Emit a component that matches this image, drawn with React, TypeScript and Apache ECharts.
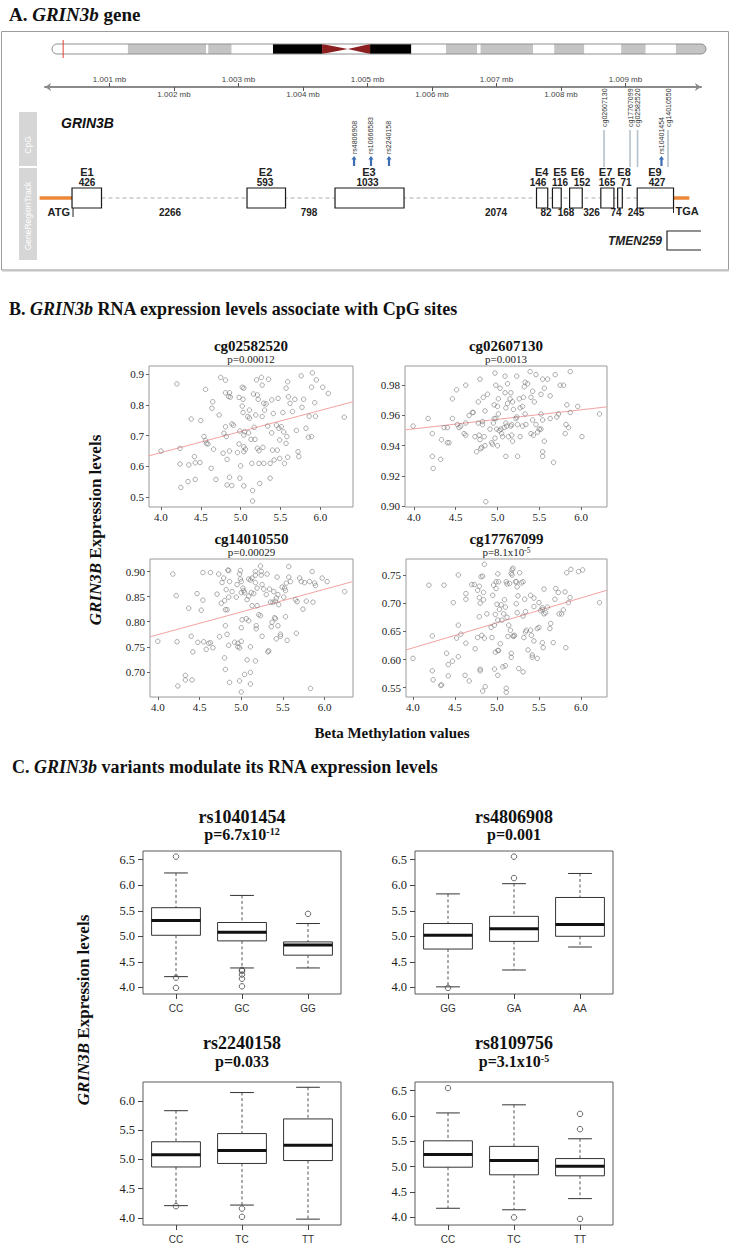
import React, { useEffect, useRef } from "react";
import * as echarts from "echarts";

const SERIF = "'Liberation Serif','Times New Roman',serif";
const SANS = "'Liberation Sans',Arial,sans-serif";

type Pt = [number, number];

// ================= Panel A data =================
// chromosome 19 ideogram (Mb)
const chrBandStart = [0, 6.8, 13.8, 14.0, 16.1, 19.8, 28.5, 32.2, 35.3, 38.1, 38.4, 43.1, 45.0, 47.7, 51.0, 53.2, 55.9];
const chrBandEnd = [6.8, 13.8, 14.0, 16.1, 19.8, 24.2, 32.2, 35.3, 38.1, 38.4, 43.1, 45.0, 47.7, 51.0, 53.2, 55.9, 58.6];
const chrBandStain = ["gneg", "gpos", "gneg", "gpos", "gneg", "gpos100", "gpos100", "gneg", "gpos", "gneg", "gpos", "gneg", "gpos", "gneg", "gpos", "gneg", "gpos"];
const chrCentromere = [24.2, 26.5, 28.5];
const chrLength = 58.6;
const geneLocusMb = [1.0];

// genome ruler (mb)
const rulerMinMb = 1.0;
const rulerMaxMb = 1.01017;
const rulerUpperTicks = [1.001, 1.003, 1.005, 1.007, 1.009];
const rulerLowerTicks = [1.002, 1.004, 1.006, 1.008];

// gene model (mb)
const exonNames = ["E1", "E2", "E3", "E4", "E5", "E6", "E7", "E8", "E9"];
const exonSizes = [426, 593, 1033, 146, 116, 152, 165, 71, 427];
const exonStartMb = [1.000419, 1.003132, 1.004496, 1.00762, 1.007867, 1.008133, 1.008617, 1.008878, 1.009181];
const exonEndMb = [1.000876, 1.003729, 1.005566, 1.007794, 1.008003, 1.008329, 1.00882, 1.00895, 1.009744];
const exonLabelMb = [1.000651, 1.003419, 1.005023, 1.007701, 1.007984, 1.008256, 1.00869, 1.008977, 1.009457];
const exonSizeLabelMb = [1.000651, 1.003411, 1.005, 1.007643, 1.007984, 1.008326, 1.008713, 1.009008, 1.009488];
const intronSizes = [2266, 798, 2074, 82, 168, 326, 74, 245];
const intronLabelMb = [1.001938, 1.004093, 1.006992, 1.007767, 1.008078, 1.008473, 1.008853, 1.009163];
const utr5StartMb = 0.999916;
const utr3EndMb = 1.009989;
const cpgNames = ["cg02607130", "cg17767099", "cg02582520", "cg14010550"];
const cpgMb = [1.008667, 1.00907, 1.009186, 1.009659];
const snpNames = ["rs4806908", "rs10666583", "rs2240158", "rs10401454"];
const snpMb = [1.004791, 1.005054, 1.005333, 1.009557];
const tmemStartMb = 1.009643;
const geneAxisMinMb = 0.999845;

// ================= Panel B data =================
const scatterXTicks = [4.0, 4.5, 5.0, 5.5, 6.0];
const cg02582520YTicks = [0.5, 0.6, 0.7, 0.8, 0.9];
const cg02607130YTicks = [0.9, 0.92, 0.94, 0.96, 0.98];
const cg14010550YTicks = [0.7, 0.75, 0.8, 0.85, 0.9];
const cg17767099YTicks = [0.55, 0.6, 0.65, 0.7, 0.75];

const cg02582520Fit: Pt[] = [[3.84, 0.634], [6.41, 0.81]];
const cg02607130Fit: Pt[] = [[3.897, 0.9505], [6.31, 0.9657]];
const cg14010550Fit: Pt[] = [[3.907, 0.77], [6.337, 0.88]];
const cg17767099Fit: Pt[] = [[3.917, 0.617], [6.31, 0.723]];

const cg02582520Points: Pt[] = [
  [4.2, 0.868], [4.0, 0.65], [4.24, 0.659], [4.24, 0.608], [4.25, 0.532], [4.35, 0.605], [4.34, 0.551], [4.38, 0.754], [4.43, 0.558], [4.42, 0.632],
  [4.43, 0.612], [4.49, 0.613], [4.5, 0.749], [4.54, 0.697], [4.56, 0.85], [4.56, 0.684], [4.57, 0.675], [4.59, 0.673], [4.65, 0.81], [4.64, 0.789],
  [4.66, 0.656], [4.63, 0.594], [4.69, 0.558], [4.73, 0.767], [4.75, 0.889], [4.78, 0.643], [4.79, 0.708], [4.81, 0.88], [4.81, 0.839], [4.81, 0.729],
  [4.82, 0.697], [4.83, 0.54], [4.83, 0.623], [4.85, 0.827], [4.86, 0.839], [4.87, 0.825], [4.89, 0.738], [4.86, 0.65], [4.86, 0.565], [4.89, 0.538],
  [4.91, 0.734], [4.96, 0.645], [4.98, 0.824], [4.98, 0.673], [4.99, 0.715], [5.0, 0.602], [4.99, 0.562], [5.02, 0.857], [5.03, 0.818], [5.02, 0.796],
  [5.03, 0.775], [5.04, 0.854], [5.04, 0.702], [5.05, 0.713], [5.04, 0.664], [5.04, 0.648], [5.04, 0.537], [5.06, 0.656], [5.09, 0.762], [5.1, 0.709],
  [5.11, 0.783], [5.11, 0.757], [5.13, 0.688], [5.14, 0.61], [5.15, 0.522], [5.15, 0.488], [5.16, 0.835], [5.17, 0.727], [5.18, 0.688], [5.19, 0.767],
  [5.2, 0.881], [5.21, 0.832], [5.22, 0.818], [5.21, 0.659], [5.23, 0.651], [5.23, 0.61], [5.24, 0.545], [5.26, 0.889], [5.27, 0.864], [5.27, 0.762],
  [5.28, 0.662], [5.29, 0.805], [5.29, 0.61], [5.3, 0.783], [5.32, 0.803], [5.34, 0.731], [5.35, 0.883], [5.37, 0.562], [5.37, 0.61], [5.39, 0.816],
  [5.39, 0.709], [5.4, 0.653], [5.41, 0.772], [5.42, 0.621], [5.45, 0.734], [5.46, 0.653], [5.47, 0.821], [5.48, 0.724], [5.49, 0.686], [5.49, 0.626],
  [5.51, 0.729], [5.53, 0.775], [5.54, 0.712], [5.55, 0.61], [5.57, 0.854], [5.57, 0.675], [5.58, 0.697], [5.59, 0.875], [5.6, 0.826], [5.62, 0.805],
  [5.59, 0.63], [5.65, 0.778], [5.68, 0.818], [5.7, 0.717], [5.72, 0.648], [5.73, 0.632], [5.76, 0.894], [5.77, 0.792], [5.79, 0.818], [5.82, 0.724],
  [5.85, 0.695], [5.86, 0.763], [5.89, 0.697], [5.89, 0.857], [5.9, 0.904], [5.93, 0.807], [5.94, 0.763], [5.95, 0.881], [6.03, 0.857], [6.1, 0.837],
  [6.3, 0.76],
];

const cg02607130Points: Pt[] = [
  [3.99, 0.953], [4.17, 0.958], [4.22, 0.948], [4.22, 0.933], [4.23, 0.925], [4.32, 0.931], [4.33, 0.944], [4.36, 0.952], [4.4, 0.952], [4.4, 0.942],
  [4.42, 0.942], [4.46, 0.958], [4.46, 0.971], [4.51, 0.977], [4.52, 0.954], [4.54, 0.952], [4.56, 0.953], [4.6, 0.948], [4.62, 0.947], [4.62, 0.98],
  [4.62, 0.955], [4.66, 0.96], [4.7, 0.962], [4.71, 0.962], [4.73, 0.946], [4.75, 0.936], [4.77, 0.969], [4.77, 0.955], [4.78, 0.947], [4.79, 0.984],
  [4.79, 0.944], [4.8, 0.938], [4.81, 0.939], [4.82, 0.954], [4.82, 0.956], [4.83, 0.972], [4.84, 0.946], [4.85, 0.963], [4.85, 0.94], [4.86, 0.903],
  [4.88, 0.974], [4.91, 0.951], [4.93, 0.942], [4.94, 0.941], [4.95, 0.955], [4.96, 0.967], [4.96, 0.958], [4.97, 0.988], [4.97, 0.945], [4.98, 0.98],
  [4.98, 0.958], [4.99, 0.951], [5.0, 0.94], [5.0, 0.966], [5.01, 0.971], [5.01, 0.961], [5.02, 0.95], [5.03, 0.978], [5.04, 0.951], [5.05, 0.948],
  [5.06, 0.946], [5.08, 0.952], [5.09, 0.975], [5.09, 0.986], [5.1, 0.965], [5.1, 0.955], [5.1, 0.933], [5.11, 0.953], [5.12, 0.981], [5.12, 0.968],
  [5.13, 0.946], [5.15, 0.971], [5.16, 0.975], [5.16, 0.953], [5.17, 0.947], [5.17, 0.954], [5.18, 0.969], [5.18, 0.943], [5.19, 0.964], [5.22, 0.958],
  [5.23, 0.959], [5.23, 0.986], [5.24, 0.933], [5.24, 0.954], [5.26, 0.971], [5.27, 0.965], [5.27, 0.946], [5.3, 0.966], [5.3, 0.953], [5.31, 0.972],
  [5.32, 0.979], [5.33, 0.961], [5.33, 0.982], [5.34, 0.954], [5.36, 0.981], [5.39, 0.989], [5.4, 0.972], [5.4, 0.948], [5.42, 0.976], [5.42, 0.957],
  [5.43, 0.947], [5.44, 0.969], [5.46, 0.954], [5.46, 0.987], [5.48, 0.949], [5.5, 0.951], [5.52, 0.961], [5.52, 0.951], [5.52, 0.974], [5.54, 0.957],
  [5.54, 0.984], [5.54, 0.936], [5.54, 0.933], [5.56, 0.943], [5.56, 0.978], [5.6, 0.984], [5.63, 0.973], [5.63, 0.958], [5.67, 0.929], [5.69, 0.987],
  [5.71, 0.959], [5.73, 0.961], [5.75, 0.98], [5.79, 0.98], [5.81, 0.948], [5.82, 0.954], [5.83, 0.967], [5.85, 0.952], [5.87, 0.989], [5.87, 0.962],
  [5.96, 0.966], [6.01, 0.946], [6.22, 0.961],
];

const cg14010550Points: Pt[] = [
  [4.0, 0.761], [4.18, 0.895], [4.22, 0.852], [4.23, 0.76], [4.24, 0.672], [4.33, 0.693], [4.33, 0.684], [4.37, 0.827], [4.41, 0.684], [4.4, 0.771],
  [4.42, 0.74], [4.47, 0.856], [4.48, 0.759], [4.52, 0.823], [4.54, 0.898], [4.54, 0.843], [4.55, 0.76], [4.58, 0.745], [4.61, 0.757], [4.63, 0.898],
  [4.63, 0.758], [4.66, 0.748], [4.71, 0.855], [4.73, 0.895], [4.74, 0.77], [4.76, 0.837], [4.77, 0.878], [4.79, 0.887], [4.8, 0.842], [4.81, 0.824],
  [4.81, 0.792], [4.8, 0.728], [4.81, 0.705], [4.82, 0.864], [4.83, 0.824], [4.83, 0.775], [4.84, 0.903], [4.85, 0.849], [4.85, 0.902], [4.86, 0.88],
  [4.85, 0.753], [4.86, 0.679], [4.89, 0.86], [4.92, 0.759], [4.94, 0.849], [4.95, 0.874], [4.96, 0.757], [4.96, 0.75], [4.98, 0.748], [4.98, 0.895],
  [4.99, 0.902], [4.99, 0.885], [5.0, 0.88], [5.0, 0.858], [4.98, 0.682], [5.0, 0.788], [5.0, 0.761], [5.0, 0.66], [5.01, 0.804], [5.02, 0.867],
  [5.03, 0.862], [5.04, 0.695], [5.04, 0.858], [5.06, 0.806], [5.07, 0.844], [5.07, 0.724], [5.09, 0.802], [5.09, 0.851], [5.09, 0.885], [5.11, 0.883],
  [5.11, 0.75], [5.11, 0.699], [5.11, 0.676], [5.12, 0.858], [5.13, 0.887], [5.13, 0.832], [5.15, 0.856], [5.17, 0.9], [5.17, 0.893], [5.17, 0.878],
  [5.17, 0.722], [5.18, 0.792], [5.18, 0.786], [5.19, 0.867], [5.19, 0.832], [5.21, 0.814], [5.23, 0.911], [5.23, 0.812], [5.24, 0.9], [5.24, 0.893],
  [5.25, 0.874], [5.25, 0.771], [5.27, 0.865], [5.3, 0.854], [5.31, 0.895], [5.32, 0.74], [5.33, 0.742], [5.34, 0.865], [5.35, 0.839], [5.36, 0.79],
  [5.37, 0.799], [5.38, 0.839], [5.39, 0.86], [5.4, 0.808], [5.41, 0.841], [5.41, 0.806], [5.42, 0.847], [5.42, 0.766], [5.43, 0.889], [5.44, 0.854],
  [5.44, 0.792], [5.45, 0.834], [5.47, 0.775], [5.47, 0.771], [5.49, 0.869], [5.51, 0.849], [5.52, 0.867], [5.53, 0.81], [5.53, 0.862], [5.54, 0.877],
  [5.55, 0.763], [5.57, 0.91], [5.57, 0.889], [5.59, 0.88], [5.65, 0.844], [5.66, 0.777], [5.67, 0.84], [5.7, 0.887], [5.72, 0.88], [5.74, 0.825],
  [5.76, 0.878], [5.78, 0.841], [5.82, 0.88], [5.83, 0.667], [5.85, 0.9], [5.86, 0.839], [5.88, 0.877], [5.89, 0.872], [5.97, 0.887], [6.03, 0.88],
  [6.24, 0.86],
];

const cg17767099Points: Pt[] = [
  [4.0, 0.602], [4.19, 0.732], [4.23, 0.642], [4.23, 0.58], [4.24, 0.564], [4.33, 0.554], [4.34, 0.555], [4.37, 0.732], [4.4, 0.611], [4.42, 0.571],
  [4.42, 0.591], [4.47, 0.597], [4.48, 0.701], [4.54, 0.75], [4.54, 0.661], [4.54, 0.605], [4.52, 0.638], [4.57, 0.645], [4.62, 0.572], [4.63, 0.717],
  [4.63, 0.707], [4.63, 0.629], [4.67, 0.562], [4.7, 0.733], [4.73, 0.733], [4.74, 0.619], [4.77, 0.639], [4.77, 0.723], [4.79, 0.73], [4.79, 0.71],
  [4.79, 0.676], [4.8, 0.583], [4.8, 0.58], [4.8, 0.7], [4.81, 0.747], [4.82, 0.643], [4.83, 0.748], [4.83, 0.544], [4.84, 0.719], [4.84, 0.706],
  [4.85, 0.638], [4.85, 0.769], [4.86, 0.552], [4.88, 0.681], [4.93, 0.657], [4.94, 0.639], [4.95, 0.714], [4.96, 0.732], [4.97, 0.661], [4.97, 0.583],
  [4.98, 0.68], [4.98, 0.613], [4.99, 0.738], [4.99, 0.726], [5.0, 0.698], [5.01, 0.67], [5.01, 0.572], [5.01, 0.752], [5.01, 0.616], [5.02, 0.738],
  [5.02, 0.616], [5.03, 0.689], [5.04, 0.628], [5.05, 0.697], [5.06, 0.67], [5.07, 0.587], [5.08, 0.681], [5.09, 0.706], [5.1, 0.693], [5.1, 0.589],
  [5.11, 0.549], [5.11, 0.542], [5.11, 0.738], [5.12, 0.734], [5.12, 0.675], [5.13, 0.641], [5.14, 0.661], [5.15, 0.735], [5.16, 0.652], [5.17, 0.753],
  [5.17, 0.604], [5.17, 0.611], [5.18, 0.759], [5.18, 0.75], [5.19, 0.642], [5.19, 0.762], [5.2, 0.641], [5.21, 0.643], [5.22, 0.738], [5.23, 0.738],
  [5.23, 0.699], [5.24, 0.729], [5.24, 0.683], [5.25, 0.713], [5.26, 0.584], [5.27, 0.754], [5.29, 0.736], [5.31, 0.677], [5.31, 0.738], [5.31, 0.578],
  [5.32, 0.639], [5.33, 0.707], [5.34, 0.649], [5.34, 0.685], [5.35, 0.652], [5.37, 0.617], [5.4, 0.714], [5.4, 0.652], [5.41, 0.643], [5.42, 0.604],
  [5.42, 0.608], [5.44, 0.709], [5.44, 0.694], [5.44, 0.633], [5.48, 0.655], [5.48, 0.602], [5.5, 0.701], [5.5, 0.657], [5.52, 0.687], [5.54, 0.689],
  [5.54, 0.63], [5.54, 0.692], [5.55, 0.621], [5.56, 0.681], [5.56, 0.725], [5.58, 0.683], [5.6, 0.693], [5.63, 0.655], [5.64, 0.664], [5.67, 0.63],
  [5.69, 0.707], [5.7, 0.726], [5.73, 0.719], [5.74, 0.681], [5.77, 0.681], [5.79, 0.688], [5.81, 0.72], [5.82, 0.621], [5.83, 0.754], [5.85, 0.701],
  [5.87, 0.71], [5.88, 0.76], [5.97, 0.756], [6.02, 0.759], [6.22, 0.701],
];

// ================= Panel C data =================
const rs10401454Genotypes = ["CC", "GC", "GG"];
const rs10401454Stats = [[4.21, 5.02, 5.31, 5.56, 6.24], [4.38, 4.91, 5.08, 5.27, 5.8], [4.38, 4.63, 4.83, 4.89, 5.25]];
const rs10401454Outliers: Pt[] = [[0, 6.56], [0, 4.19], [0, 3.99], [1, 4.34], [1, 4.32], [1, 4.25], [1, 4.17], [1, 4.02], [2, 5.44]];

const rs4806908Genotypes = ["GG", "GA", "AA"];
const rs4806908Stats = [[4.01, 4.75, 5.02, 5.25, 5.83], [4.34, 4.9, 5.15, 5.39, 6.03], [4.79, 5.0, 5.23, 5.76, 6.23]];
const rs4806908Outliers: Pt[] = [[0, 3.99], [1, 6.56], [1, 6.14]];

const rs2240158Genotypes = ["CC", "TC", "TT"];
const rs2240158Stats = [[4.21, 4.87, 5.08, 5.3, 5.83], [4.22, 4.93, 5.15, 5.44, 6.14], [3.98, 4.98, 5.24, 5.69, 6.23]];
const rs2240158Outliers: Pt[] = [[0, 4.2], [1, 4.16], [1, 4.02]];

const rs8109756Genotypes = ["CC", "TC", "TT"];
const rs8109756Stats = [[4.18, 4.99, 5.24, 5.51, 6.06], [4.15, 4.84, 5.12, 5.4, 6.22], [4.37, 4.82, 5.01, 5.16, 5.55]];
const rs8109756Outliers: Pt[] = [[0, 6.55], [1, 4.0], [2, 6.04], [2, 5.74], [2, 3.97]];

const boxYTicks65 = [4.0, 4.5, 5.0, 5.5, 6.0, 6.5];
const boxYTicks60 = [4.0, 4.5, 5.0, 5.5, 6.0];

// ================= layout =================
const scatterPanels = [
  { name: "cg02582520", p: "{n|p=0.00012}", points: cg02582520Points, fit: cg02582520Fit, yTicks: cg02582520YTicks, dec: 1,
    left: 149, top: 366, width: 204, height: 141, xMin: 3.85, xMax: 6.41, yMin: 0.4685, yMax: 0.926, titleY: 346, pY: 359 },
  { name: "cg02607130", p: "{n|p=0.0013}", points: cg02607130Points, fit: cg02607130Fit, yTicks: cg02607130YTicks, dec: 2,
    left: 405, top: 366, width: 202, height: 141, xMin: 3.893, xMax: 6.31, yMin: 0.8995, yMax: 0.9927, titleY: 346, pY: 359 },
  { name: "cg14010550", p: "{n|p=0.00029}", points: cg14010550Points, fit: cg14010550Fit, yTicks: cg14010550YTicks, dec: 2,
    left: 150, top: 559, width: 203, height: 138, xMin: 3.906, xMax: 6.34, yMin: 0.65, yMax: 0.925, titleY: 539, pY: 552 },
  { name: "cg17767099", p: "{n|p=8.1x10}{s|-5}", points: cg17767099Points, fit: cg17767099Fit, yTicks: cg17767099YTicks, dec: 2,
    left: 406, top: 559, width: 201, height: 138, xMin: 3.917, xMax: 6.31, yMin: 0.5335, yMax: 0.7784, titleY: 539, pY: 552 },
];

const boxPanels = [
  { name: "rs10401454", p: "{b|p=6.7x10}{s|-12}", cats: rs10401454Genotypes, stats: rs10401454Stats, out: rs10401454Outliers, yTicks: boxYTicks65,
    left: 143, top: 851, width: 198, height: 143, yMin: 3.87, yMax: 6.67, titleY: 817, pY: 834 },
  { name: "rs4806908", p: "{b|p=0.001}", cats: rs4806908Genotypes, stats: rs4806908Stats, out: rs4806908Outliers, yTicks: boxYTicks65,
    left: 415, top: 851, width: 198, height: 143, yMin: 3.87, yMax: 6.67, titleY: 817, pY: 834 },
  { name: "rs2240158", p: "{b|p=0.033}", cats: rs2240158Genotypes, stats: rs2240158Stats, out: rs2240158Outliers, yTicks: boxYTicks60,
    left: 143, top: 1082, width: 198, height: 144, yMin: 3.88, yMax: 6.32, titleY: 1043, pY: 1061 },
  { name: "rs8109756", p: "{b|p=3.1x10}{s|-5}", cats: rs8109756Genotypes, stats: rs8109756Stats, out: rs8109756Outliers, yTicks: boxYTicks65,
    left: 415, top: 1082, width: 198, height: 144, yMin: 3.85, yMax: 6.67, titleY: 1043, pY: 1061 },
];

function txt(x: number, y: number, text: string, o: any = {}) {
  return {
    type: "text", x, y, rotation: o.rotation || 0, silent: true, z: 10,
    style: {
      text, fill: o.fill || "#111", fontFamily: o.family || SERIF, fontSize: o.size || 12,
      fontWeight: o.weight || "normal", fontStyle: o.fstyle || "normal",
      textAlign: o.align || "center", textVerticalAlign: o.va || "middle", rich: o.rich,
    },
  };
}

function buildOption() {
  const grids: any[] = [];
  const xAxes: any[] = [];
  const yAxes: any[] = [];
  const series: any[] = [];
  const graphics: any[] = [];

  // ---------- Panel A frame + texts ----------
  const titleRich = (size: number) => ({
    b: { fontFamily: SERIF, fontWeight: "bold", fontSize: size, fill: "#111" },
    bi: { fontFamily: SERIF, fontWeight: "bold", fontStyle: "italic", fontSize: size, fill: "#111" },
  });
  graphics.push(txt(9, 14, "{b|A. }{bi|GRIN3b}{b| gene}", { align: "left", rich: titleRich(19) }));
  graphics.push({ type: "rect", silent: true, shape: { x: 1.5, y: 31.5, width: 727, height: 238.5 }, style: { fill: "none", stroke: "#9c9c9c", lineWidth: 1 } });
  graphics.push({ type: "line", silent: true, shape: { x1: 2, y1: 270.5, x2: 729, y2: 270.5 }, style: { stroke: "#c4c4c4", lineWidth: 2 } });
  graphics.push({ type: "rect", silent: true, shape: { x: 19, y: 112, width: 18, height: 54 }, style: { fill: "#d6d6d6" } });
  graphics.push({ type: "rect", silent: true, shape: { x: 19, y: 168, width: 18, height: 92 }, style: { fill: "#d6d6d6" } });
  graphics.push(txt(28, 145, "CpG", { family: SANS, size: 8.5, fill: "#fff", rotation: Math.PI / 2 }));
  graphics.push(txt(28, 216, "GeneRegionTrack", { family: SANS, size: 8.5, fill: "#fff", rotation: Math.PI / 2 }));
  graphics.push(txt(61, 123, "GRIN3B", { family: SANS, size: 14, weight: "bold", fstyle: "italic", align: "left" }));

  // ideogram grid (0)
  grids.push({ left: 52, top: 44, width: 654, height: 10, show: false });
  xAxes.push({ gridIndex: 0, type: "value", min: 0, max: chrLength, show: false });
  yAxes.push({ gridIndex: 0, type: "value", min: 0, max: 1, show: false });
  series.push({
    type: "custom", xAxisIndex: 0, yAxisIndex: 0, silent: true,
    data: chrBandStart.map((s, i) => [s, chrBandEnd[i], i]),
    renderItem: (params: any, api: any) => {
      const cs = params.coordSys;
      const s = api.coord([api.value(0), 0])[0];
      const e = api.coord([api.value(1), 0])[0];
      const i = params.dataIndex;
      const st = chrBandStain[i];
      const fill = st === "gpos100" ? "#000" : st === "gpos" ? "#c4c4c4" : "#fff";
      const r = i === 0 ? [5, 0, 0, 5] : i === chrBandStart.length - 1 ? [0, 5, 5, 0] : 0;
      return { type: "rect", shape: { x: s, y: cs.y, width: e - s, height: cs.height, r }, style: { fill } };
    },
  });
  series.push({
    type: "custom", xAxisIndex: 0, yAxisIndex: 0, silent: true,
    data: [[chrCentromere[0], chrCentromere[1], chrCentromere[2]]],
    renderItem: (params: any, api: any) => {
      const cs = params.coordSys;
      const a = api.coord([api.value(0), 0])[0];
      const m = api.coord([api.value(1), 0])[0];
      const b = api.coord([api.value(2), 0])[0];
      const top = cs.y, bot = cs.y + cs.height, mid = cs.y + cs.height / 2;
      return {
        type: "group", children: [
          { type: "polygon", shape: { points: [[a, top], [m, mid], [a, bot]] }, style: { fill: "#8c1f1f" } },
          { type: "polygon", shape: { points: [[b, top], [m, mid], [b, bot]] }, style: { fill: "#8c1f1f" } },
          { type: "rect", shape: { x: api.coord([0, 0])[0], y: top, width: api.coord([chrLength, 0])[0] - api.coord([0, 0])[0], height: cs.height, r: 5 }, style: { fill: "none", stroke: "#8f8f8f", lineWidth: 1 } },
        ],
      };
    },
  });
  series.push({
    type: "custom", xAxisIndex: 0, yAxisIndex: 0, silent: true,
    data: geneLocusMb.map((v) => [v]),
    renderItem: (params: any, api: any) => {
      const cs = params.coordSys;
      const x = api.coord([api.value(0), 0])[0];
      return { type: "line", shape: { x1: x, y1: cs.y - 4, x2: x, y2: cs.y + cs.height + 4 }, style: { stroke: "#e5413a", lineWidth: 1 } };
    },
  });

  // ruler grid (1)
  grids.push({ left: 45, top: 86, width: 656, height: 1, show: false });
  const rulerLabel = { fontFamily: SANS, fontSize: 8, color: "#444", margin: 3, formatter: (v: number) => v.toFixed(3) + " mb" };
  xAxes.push({
    gridIndex: 1, type: "value", position: "top", min: rulerMinMb, max: rulerMaxMb,
    axisLine: { show: true, lineStyle: { color: "#8a8a8a", width: 2 }, symbol: ["arrow", "arrow"], symbolSize: [6, 6] },
    axisTick: { show: true, length: 4, customValues: rulerUpperTicks, lineStyle: { color: "#555" } },
    axisLabel: { ...rulerLabel, customValues: rulerUpperTicks },
    splitLine: { show: false },
  });
  xAxes.push({
    gridIndex: 1, type: "value", position: "bottom", min: rulerMinMb, max: rulerMaxMb,
    axisLine: { show: false },
    axisTick: { show: true, length: 4, customValues: rulerLowerTicks, lineStyle: { color: "#555" } },
    axisLabel: { ...rulerLabel, customValues: rulerLowerTicks },
    splitLine: { show: false },
  });
  yAxes.push({ gridIndex: 1, type: "value", min: 0, max: 1, show: false });

  // gene grid (2)
  grids.push({ left: 35, top: 100, width: 666, height: 160, show: false });
  xAxes.push({ gridIndex: 2, type: "value", min: geneAxisMinMb, max: rulerMaxMb, show: false });
  yAxes.push({ gridIndex: 2, type: "value", min: 0, max: 1, show: false });
  const GX = 3, GY = 2;
  const Y = { cpgTop: 130, cpgBot: 167, cpgLabel: 127, snpBase: 166, snpTip: 156, snpLabel: 154, exLabel: 172, exSize: 182, exTop: 188, exH: 20, spine: 198, intron: 212 };
  const smallText = (x: number, y: number, text: string, extra: any = {}) => ({
    type: "text", x, y, rotation: extra.rotation || 0,
    style: { text, fill: extra.fill || "#222", fontFamily: SANS, fontSize: extra.size || 10, fontWeight: extra.weight || "bold", fontStyle: extra.fstyle || "normal", textAlign: extra.align || "center", textVerticalAlign: "middle" },
  });

  // gene backbone
  series.push({
    type: "custom", xAxisIndex: GX, yAxisIndex: GY, silent: true,
    data: [[utr5StartMb, exonStartMb[0], exonEndMb[0], exonStartMb[8], exonEndMb[8], utr3EndMb]],
    renderItem: (params: any, api: any) => {
      const X = (k: number) => api.coord([api.value(k), 0])[0];
      return {
        type: "group", children: [
          { type: "line", shape: { x1: X(2), y1: Y.spine, x2: X(3), y2: Y.spine }, style: { stroke: "#c9c9c9", lineWidth: 1.3, lineDash: [4, 3] } },
          { type: "line", shape: { x1: X(0), y1: Y.spine, x2: X(1), y2: Y.spine }, style: { stroke: "#ec8638", lineWidth: 3.5 } },
          { type: "line", shape: { x1: X(4), y1: Y.spine, x2: X(5), y2: Y.spine }, style: { stroke: "#ec8638", lineWidth: 3.5 } },
          { type: "line", shape: { x1: X(1) + 1, y1: 206, x2: X(1) + 1, y2: 217 }, style: { stroke: "#222", lineWidth: 1 } },
          { type: "line", shape: { x1: X(4), y1: 206, x2: X(4), y2: 213 }, style: { stroke: "#222", lineWidth: 1 } },
          smallText(X(1) - 2, 212, "ATG", { size: 11, align: "right" }),
          smallText(X(4) + 2, 211, "TGA", { size: 11, align: "left" }),
        ],
      };
    },
  });
  // exons
  series.push({
    type: "custom", xAxisIndex: GX, yAxisIndex: GY, silent: true,
    data: exonNames.map((_, i) => [exonStartMb[i], exonEndMb[i], exonLabelMb[i], exonSizeLabelMb[i], exonSizes[i]]),
    renderItem: (params: any, api: any) => {
      const X = (k: number) => api.coord([api.value(k), 0])[0];
      const s = X(0), e = X(1);
      return {
        type: "group", children: [
          { type: "rect", shape: { x: s, y: Y.exTop, width: e - s, height: Y.exH }, style: { fill: "#fff", stroke: "#1a1a1a", lineWidth: 1.2 } },
          smallText(X(2), Y.exLabel, exonNames[params.dataIndex], { size: 11 }),
          smallText(X(3), Y.exSize, String(api.value(4)), { size: 10 }),
        ],
      };
    },
  });
  // introns
  series.push({
    type: "custom", xAxisIndex: GX, yAxisIndex: GY, silent: true,
    data: intronSizes.map((s, i) => [intronLabelMb[i], s]),
    renderItem: (params: any, api: any) => smallText(api.coord([api.value(0), 0])[0], Y.intron, String(api.value(1)), { size: 10 }),
  });
  // CpG sites
  series.push({
    type: "custom", xAxisIndex: GX, yAxisIndex: GY, silent: true,
    data: cpgMb.map((v) => [v]),
    renderItem: (params: any, api: any) => {
      const x = api.coord([api.value(0), 0])[0];
      return {
        type: "group", children: [
          { type: "line", shape: { x1: x, y1: Y.cpgTop, x2: x, y2: Y.cpgBot }, style: { stroke: "#b4c2ce", lineWidth: 1.6 } },
          smallText(x, Y.cpgLabel, cpgNames[params.dataIndex], { size: 7, weight: "normal", align: "left", rotation: Math.PI / 2, fill: "#333" }),
        ],
      };
    },
  });
  // SNPs
  series.push({
    type: "custom", xAxisIndex: GX, yAxisIndex: GY, silent: true,
    data: snpMb.map((v) => [v]),
    renderItem: (params: any, api: any) => {
      const x = api.coord([api.value(0), 0])[0];
      return {
        type: "group", children: [
          { type: "line", shape: { x1: x, y1: Y.snpBase, x2: x, y2: Y.snpTip + 3 }, style: { stroke: "#3c6db3", lineWidth: 2.2 } },
          { type: "polygon", shape: { points: [[x - 2.6, Y.snpTip + 3.5], [x + 2.6, Y.snpTip + 3.5], [x, Y.snpTip]] }, style: { fill: "#3c6db3" } },
          smallText(x, Y.snpLabel, snpNames[params.dataIndex], { size: 7, weight: "normal", align: "left", rotation: Math.PI / 2, fill: "#333" }),
        ],
      };
    },
  });
  // TMEM259
  series.push({
    type: "custom", xAxisIndex: GX, yAxisIndex: GY, silent: true,
    data: [[tmemStartMb, rulerMaxMb]],
    renderItem: (params: any, api: any) => {
      const s = api.coord([api.value(0), 0])[0];
      const e = api.coord([api.value(1), 0])[0];
      return {
        type: "group", children: [
          { type: "polyline", shape: { points: [[e, 231], [s, 231], [s, 250], [e, 250]] }, style: { stroke: "#222", lineWidth: 1.2, fill: "none" } },
          smallText(s - 5, 241, "TMEN259", { size: 12, fstyle: "italic", align: "right" }),
        ],
      };
    },
  });

  // ---------- Panel B ----------
  graphics.push(txt(9, 309, "{b|B. }{bi|GRIN3b}{b| RNA expression levels associate with CpG sites}", { align: "left", rich: titleRich(18) }));
  graphics.push(txt(95, 530, "{bi|GRIN3B}{b| Expression levels}", { rotation: Math.PI / 2, rich: titleRich(17) }));
  graphics.push(txt(392, 733, "Beta Methylation values", { size: 15, weight: "bold" }));

  scatterPanels.forEach((p) => {
    const gi = grids.length;
    grids.push({ left: p.left, top: p.top, width: p.width, height: p.height, show: true, borderColor: "#9a9a9a", borderWidth: 1, backgroundColor: "transparent" });
    const xi = xAxes.length, yi = yAxes.length;
    xAxes.push({
      gridIndex: gi, type: "value", min: p.xMin, max: p.xMax,
      axisLine: { show: false }, splitLine: { show: false },
      axisTick: { show: true, length: 3, customValues: scatterXTicks, lineStyle: { color: "#666" } },
      axisLabel: { customValues: scatterXTicks, fontFamily: SERIF, fontSize: 11, color: "#222", margin: 4, formatter: (v: number) => v.toFixed(1) },
    });
    yAxes.push({
      gridIndex: gi, type: "value", min: p.yMin, max: p.yMax,
      axisLine: { show: false }, splitLine: { show: false },
      axisTick: { show: true, length: 3, customValues: p.yTicks, lineStyle: { color: "#666" } },
      axisLabel: { customValues: p.yTicks, fontFamily: SERIF, fontSize: 11, color: "#222", margin: 5, formatter: (v: number) => v.toFixed(p.dec) },
    });
    series.push({
      type: "line", xAxisIndex: xi, yAxisIndex: yi, data: p.fit, symbol: "none", silent: true, z: 1,
      lineStyle: { color: "#f3a2a2", width: 1 },
    });
    series.push({
      type: "scatter", xAxisIndex: xi, yAxisIndex: yi, data: p.points, symbol: "circle", symbolSize: 4.5, silent: true, z: 2,
      itemStyle: { color: "rgba(0,0,0,0)", borderColor: "#7a7a7a", borderWidth: 0.8 },
    });
    const cx = p.left + p.width / 2;
    graphics.push(txt(cx, p.titleY, p.name, { size: 15, weight: "bold" }));
    graphics.push(txt(cx, p.pY, p.p, {
      rich: {
        n: { fontFamily: SERIF, fontSize: 11, fill: "#222" },
        s: { fontFamily: SERIF, fontSize: 7.5, fill: "#222", verticalAlign: "top" },
      },
    }));
  });

  // ---------- Panel C ----------
  graphics.push(txt(12, 767, "{b|C. }{bi|GRIN3b}{b| variants modulate its RNA expression levels}", { align: "left", rich: titleRich(18) }));
  graphics.push(txt(83, 1010, "{bi|GRIN3B}{b| Expression levels}", { rotation: Math.PI / 2, rich: titleRich(17) }));

  boxPanels.forEach((p) => {
    const gi = grids.length;
    grids.push({ left: p.left, top: p.top, width: p.width, height: p.height, show: true, borderColor: "#5a5a5a", borderWidth: 1, backgroundColor: "transparent" });
    const xi = xAxes.length, yi = yAxes.length;
    xAxes.push({
      gridIndex: gi, type: "category", data: p.cats, boundaryGap: true,
      axisLine: { show: false }, splitLine: { show: false },
      axisTick: { show: true, length: 5, alignWithLabel: true, lineStyle: { color: "#444" } },
      axisLabel: { fontFamily: SANS, fontSize: 10, color: "#333", margin: 9 },
    });
    yAxes.push({
      gridIndex: gi, type: "value", min: p.yMin, max: p.yMax,
      axisLine: { show: false }, splitLine: { show: false },
      axisTick: { show: true, length: 5, customValues: p.yTicks, lineStyle: { color: "#444" } },
      axisLabel: { customValues: p.yTicks, fontFamily: SERIF, fontSize: 12.5, color: "#222", margin: 8, formatter: (v: number) => v.toFixed(1) },
    });
    series.push({
      type: "custom", xAxisIndex: xi, yAxisIndex: yi, silent: true,
      data: p.stats.map((s, i) => [i, ...s]),
      encode: { x: 0, y: [1, 2, 3, 4, 5] },
      renderItem: (params: any, api: any) => {
        const c = api.value(0);
        const pl = api.coord([c, api.value(1)]);
        const p1 = api.coord([c, api.value(2)]);
        const pm = api.coord([c, api.value(3)]);
        const p3 = api.coord([c, api.value(4)]);
        const ph = api.coord([c, api.value(5)]);
        const band = api.size([1, 0])[0];
        const bw = band * 0.74, cw = band * 0.36;
        const x = pm[0];
        const dash = { stroke: "#555", lineWidth: 1, lineDash: [3, 2.5] };
        const solid = { stroke: "#333", lineWidth: 1 };
        return {
          type: "group", children: [
            { type: "line", shape: { x1: x, y1: ph[1], x2: x, y2: p3[1] }, style: dash },
            { type: "line", shape: { x1: x, y1: p1[1], x2: x, y2: pl[1] }, style: dash },
            { type: "line", shape: { x1: x - cw / 2, y1: ph[1], x2: x + cw / 2, y2: ph[1] }, style: solid },
            { type: "line", shape: { x1: x - cw / 2, y1: pl[1], x2: x + cw / 2, y2: pl[1] }, style: solid },
            { type: "rect", shape: { x: x - bw / 2, y: p3[1], width: bw, height: p1[1] - p3[1] }, style: { fill: "#fff", stroke: "#333", lineWidth: 1 } },
            { type: "line", shape: { x1: x - bw / 2, y1: pm[1], x2: x + bw / 2, y2: pm[1] }, style: { stroke: "#111", lineWidth: 3 } },
          ],
        };
      },
    });
    series.push({
      type: "scatter", xAxisIndex: xi, yAxisIndex: yi, data: p.out, symbol: "circle", symbolSize: 5.5, silent: true, z: 3,
      itemStyle: { color: "rgba(0,0,0,0)", borderColor: "#444", borderWidth: 1 },
    });
    const cx = p.left + p.width / 2;
    graphics.push(txt(cx, p.titleY, p.name, { size: 18, weight: "bold" }));
    graphics.push(txt(cx, p.pY, p.p, {
      rich: {
        b: { fontFamily: SERIF, fontSize: 16, fontWeight: "bold", fill: "#111" },
        s: { fontFamily: SERIF, fontSize: 10, fontWeight: "bold", fill: "#111", verticalAlign: "top" },
      },
    }));
  });

  return {
    animation: false,
    backgroundColor: "#ffffff",
    grid: grids,
    xAxis: xAxes,
    yAxis: yAxes,
    series,
    graphic: { elements: graphics },
  };
}

export default function App() {
  const ref = useRef<HTMLDivElement>(null);
  useEffect(() => {
    if (!ref.current) return;
    const chart = echarts.init(ref.current, undefined, { renderer: "svg" });
    chart.setOption(buildOption() as any);
    return () => chart.dispose();
  }, []);
  return (
    <div
      ref={ref}
      style={{ position: "absolute", left: 0, top: 0, width: 732, height: 1244, background: "#fff" }}
    />
  );
}
